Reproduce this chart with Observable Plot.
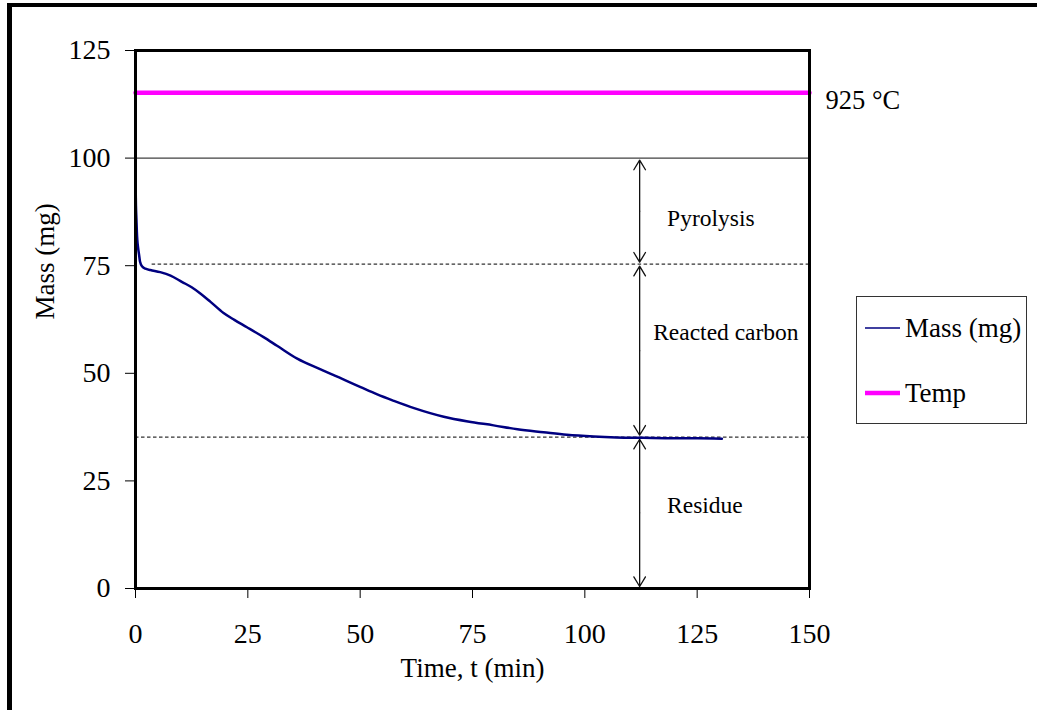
<!DOCTYPE html>
<html>
<head>
<meta charset="utf-8">
<script src="https://cdn.jsdelivr.net/npm/d3@7"></script>
<script src="https://cdn.jsdelivr.net/npm/@observablehq/plot@0.6"></script>
<style>
  body { margin: 0; background: #fff; }
  #wrap { position: relative; width: 1037px; height: 710px; overflow: hidden; background: #fff; font-family: "Liberation Serif", "Times New Roman", serif; }
  #chart { position: absolute; left: 0; top: 0; }
  #border { position: absolute; left: 7px; top: 3px; width: 1200px; height: 900px; border-left: 5px solid #000; border-top: 4px solid #000; pointer-events: none; }
  #legend { position: absolute; left: 856px; top: 296px; width: 169px; height: 126px; border: 1.5px solid #333; background: #fff; }
  .entry { position: absolute; left: 0; height: 30px; display: flex; align-items: center; font-size: 27px; color: #000; }
  .entry svg { margin-left: 8px; margin-right: 5px; }
</style>
</head>
<body>
<div id="wrap">
  <div id="chart"></div>
  <div id="border"></div>
  <div id="legend"></div>
</div>
<script>
// ---- data ----
const massT = [0, 0.05, 0.1, 0.2, 0.3, 0.4, 0.6, 0.8, 1.0, 1.5, 2.2, 3.3, 5.5, 7.8, 10.4, 12.5, 14.5, 16.7, 19.6, 22, 24.8, 28.5, 31.5, 36, 41.2, 47.1, 50.1, 53.8, 57.5, 62, 68.6, 74, 79.7, 85, 90.8, 96, 102, 107, 113, 120, 125, 130.5];
const massV = [94.8, 92, 89, 86, 83, 81, 79, 77.5, 76, 74.8, 74.3, 74.0, 73.5, 72.7, 71.2, 70, 68.5, 66.6, 64.0, 62.4, 60.7, 58.4, 56.4, 53.4, 50.9, 48.2, 46.8, 45.1, 43.6, 41.9, 39.9, 38.8, 37.9, 37.0, 36.3, 35.7, 35.3, 35.1, 35.0, 34.9, 34.9, 34.8];
const tempT = [0, 150];
const tempV = [115.2, 115.2];
const tempLabel = "925 °C";

const xTicks = [0, 25, 50, 75, 100, 125, 150];
const yTicks = [0, 25, 50, 75, 100, 125];
const xTitle = "Time, t (min)";
const yTitle = "Mass (mg)";

// reference levels: solid line at 100, dashed at pyrolysis end and residue
const solidLevel = 100;
const dashedLevels = [75.35, 35.15];
const dashedStart = [3.7, 0];
const lineEnd = 150;

// double arrows at t = arrowT between successive levels
const arrowT = 112.2;
const arrowLevels = [100, 75.35, 35.15, 0];

// annotation labels
const annText = ["Pyrolysis", "Reacted carbon", "Residue"];
const annT = [118.3, 115.2, 118.3];
const annV = [86.0, 59.6, 19.3];

const legendNames = ["Mass (mg)", "Temp"];
const legendColors = ["#000080", "#FF00FF"];
const legendWidths = [1.5, 4.5];

// ---- build tables ----
const mass = massT.map((t, i) => ({t, v: massV[i]}));
const temp = tempT.map((t, i) => ({t, v: tempV[i]}));
const dashed = dashedLevels.map((v, i) => ({v, x1: dashedStart[i], x2: lineEnd}));
const arrows = [];
for (let i = 0; i < arrowLevels.length - 1; i++) {
  const a = arrowLevels[i], b = arrowLevels[i + 1], mid = (a + b) / 2;
  arrows.push({x: arrowT, y1: mid, y2: a});
  arrows.push({x: arrowT, y1: mid, y2: b});
}
const ann = annText.map((s, i) => ({s, t: annT[i], v: annV[i]}));

const chart = Plot.plot({
  width: 1037,
  height: 710,
  marginLeft: 135,
  marginRight: 228,
  marginTop: 50,
  marginBottom: 122,
  style: {fontFamily: "Liberation Serif, Times New Roman, serif", fontSize: "28px", background: "transparent", color: "#000"},
  x: {domain: [0, 150], ticks: xTicks, tickSize: 10, tickPadding: 25, label: null},
  y: {domain: [0, 125], ticks: yTicks, tickSize: 10, tickPadding: 15, label: null},
  marks: [
    Plot.ruleY([solidLevel], {x1: 0, x2: lineEnd, stroke: "#404040", strokeWidth: 1.3}),
    Plot.ruleY(dashed, {y: "v", x1: "x1", x2: "x2", stroke: "#333", strokeWidth: 1.2, strokeDasharray: "3.5,2.5"}),
    Plot.arrow(arrows, {x1: "x", x2: "x", y1: "y1", y2: "y2", stroke: "#111", strokeWidth: 1.3, headLength: 13, headAngle: 62, insetEnd: 2}),
    Plot.line(temp, {x: "t", y: "v", stroke: "#FF00FF", strokeWidth: 4.5}),
    Plot.line(mass, {x: "t", y: "v", stroke: "#000080", strokeWidth: 2.5, strokeLinejoin: "round", curve: "monotone-x"}),
    Plot.text(ann, {x: "t", y: "v", text: "s", textAnchor: "start", fontSize: 23.5, fill: "#000"}),
    Plot.text([temp[temp.length - 1]], {x: "t", y: "v", text: () => tempLabel, textAnchor: "start", dx: 16, dy: 8, fontSize: 26.5, fill: "#000"}),
    Plot.text([yTitle], {frameAnchor: "left", dx: -90, rotate: -90, fontSize: 27, fill: "#000"}),
    Plot.text([xTitle], {frameAnchor: "bottom", dy: 88, fontSize: 27, fill: "#000"}),
    Plot.frame({stroke: "#000", strokeWidth: 3})
  ]
});
document.getElementById("chart").appendChild(chart);

// legend
const legend = document.getElementById("legend");
const entryTops = [16, 81];
legendNames.forEach((name, i) => {
  const e = document.createElement("div");
  e.className = "entry";
  e.style.top = entryTops[i] + "px";
  e.innerHTML = `<svg width="35" height="10"><line x1="0" y1="5" x2="35" y2="5" stroke="${legendColors[i]}" stroke-width="${legendWidths[i]}"/></svg><span>${name}</span>`;
  legend.appendChild(e);
});
</script>
</body>
</html>
